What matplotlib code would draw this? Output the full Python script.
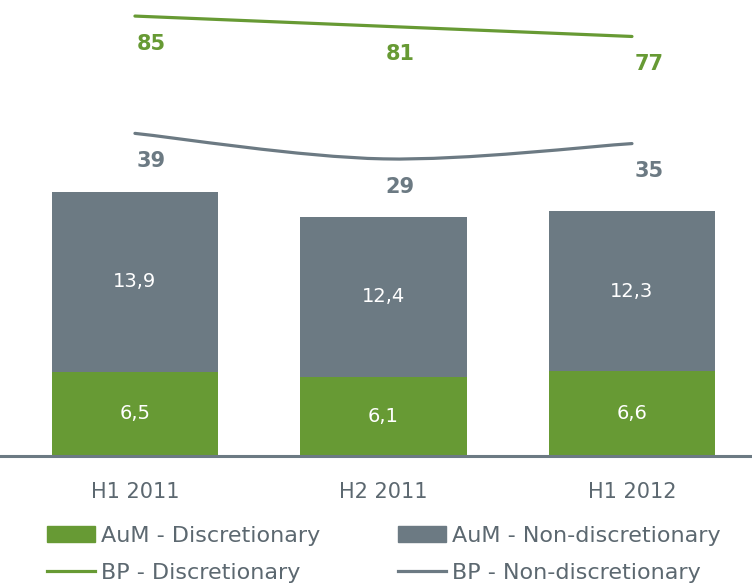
import matplotlib
matplotlib.use('Agg')
import matplotlib.pyplot as plt
from matplotlib.path import Path
from matplotlib.patches import PathPatch, Patch
from matplotlib.lines import Line2D

periods = ['H1 2011', 'H2 2011', 'H1 2012']
aum_disc = [6.5, 6.1, 6.6]
aum_nondisc = [13.9, 12.4, 12.3]
bp_disc = [85, 81, 77]
bp_nondisc = [39, 29, 35]

GREEN = '#679a34'
GRAY = '#6c7a83'
TEXT_GRAY = '#5c6870'

plt.rcParams['font.family'] = ['DejaVu Sans']


def smooth_path(xs, ys):
    # Catmull-Rom style bezier through the data points (like a smoothed office line)
    pts = list(zip(xs, ys))
    verts = [pts[0]]
    codes = [Path.MOVETO]
    n = len(pts)
    for i in range(n - 1):
        p0 = pts[max(i - 1, 0)]
        p1 = pts[i]
        p2 = pts[i + 1]
        p3 = pts[min(i + 2, n - 1)]
        c1 = (p1[0] + (p2[0] - p0[0]) / 6, p1[1] + (p2[1] - p0[1]) / 6)
        c2 = (p2[0] - (p3[0] - p1[0]) / 6, p2[1] - (p3[1] - p1[1]) / 6)
        verts += [c1, c2, p2]
        codes += [Path.CURVE4] * 3
    return Path(verts, codes)


fig = plt.figure(figsize=(7.52, 5.84), dpi=100)
ax = fig.add_axes([0, 0.2192, 1, 0.7808])
x = list(range(len(periods)))

ax.bar(x, aum_disc, width=0.67, color=GREEN)
ax.bar(x, aum_nondisc, width=0.67, bottom=aum_disc, color=GRAY)
for i in x:
    ax.text(i, aum_disc[i] / 2, f"{aum_disc[i]:.1f}".replace('.', ','),
            ha='center', va='center', color='white', fontsize=14)
    ax.text(i, aum_disc[i] + aum_nondisc[i] / 2, f"{aum_nondisc[i]:.1f}".replace('.', ','),
            ha='center', va='center', color='white', fontsize=14)

ax.set_xlim(-0.543, 2.483)
ax.set_ylim(0, 35.24)
for s in ['top', 'right', 'left']:
    ax.spines[s].set_visible(False)
ax.spines['bottom'].set_color(GRAY)
ax.spines['bottom'].set_linewidth(2.2)
ax.set_yticks([])
ax.set_xticks(x)
ax.set_xticklabels(periods, fontsize=15, color=TEXT_GRAY)
ax.tick_params(axis='x', length=0, pad=19)

ax2 = ax.twinx()
ax2.set_ylim(-87.5, 91.3)
ax2.set_xlim(ax.get_xlim())
ax2.axis('off')
for vals, col in [(bp_disc, GREEN), (bp_nondisc, GRAY)]:
    ax2.add_patch(PathPatch(smooth_path(x, vals), facecolor='none',
                            edgecolor=col, lw=2.3, capstyle='round'))
    for i, v in zip(x, vals):
        ax2.annotate(str(v), (i, v), xytext=(12, -20), textcoords='offset points',
                     ha='center', va='center', color=col, fontsize=15,
                     fontweight='bold')

handles = [Patch(color=GREEN), Line2D([], [], color=GREEN, lw=2.3),
           Patch(color=GRAY), Line2D([], [], color=GRAY, lw=2.3)]
labels = ['AuM - Discretionary', 'BP - Discretionary',
          'AuM - Non-discretionary', 'BP - Non-discretionary']
leg = fig.legend(handles, labels, ncol=2, loc='upper left',
                 bbox_to_anchor=(0.063, 0.1), frameon=False, fontsize=16,
                 handlelength=2.15, handleheight=0.75, handletextpad=0.28,
                 columnspacing=3.5, labelspacing=0.78, borderpad=0.0,
                 borderaxespad=0.0)
for t in leg.get_texts():
    t.set_color(TEXT_GRAY)

fig.savefig('out.png', dpi=100)
